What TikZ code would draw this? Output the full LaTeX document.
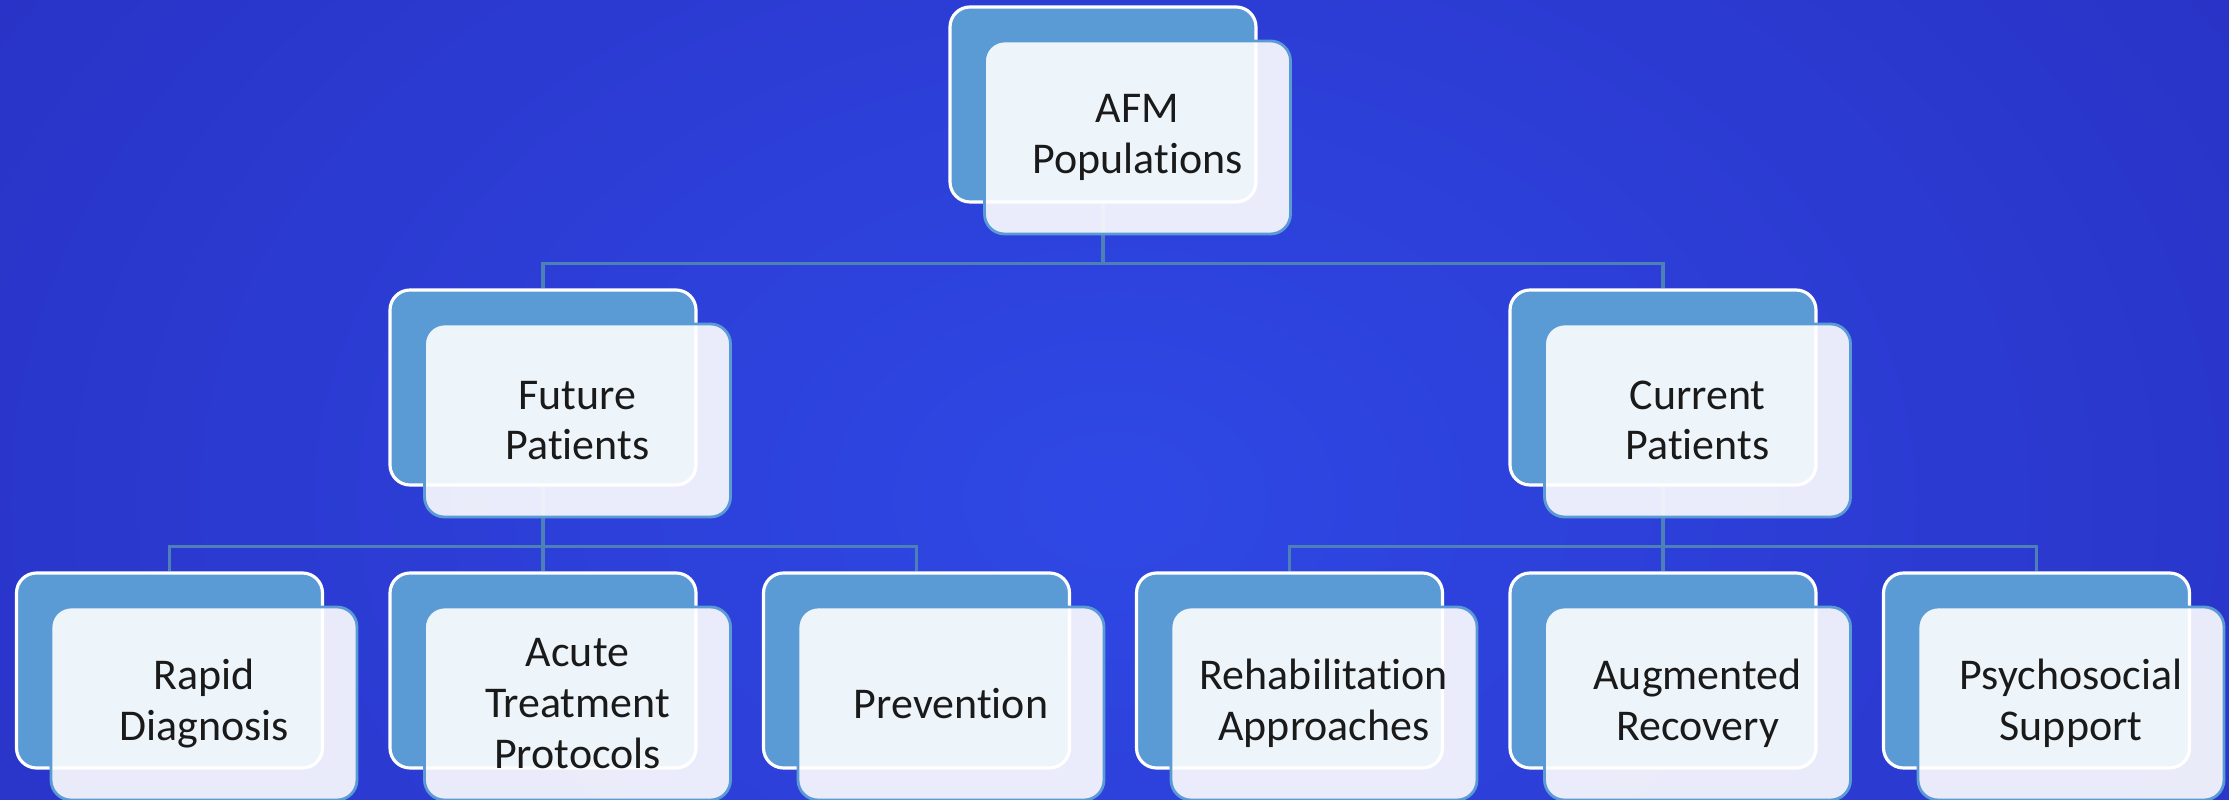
\documentclass[tikz,border=0pt]{standalone}
\usepackage{fontspec}
\setmainfont{Carlito}[Ligatures={NoCommon,NoRequired,NoContextual}, Contextuals=NoAlternate]
\usepackage{tikz}
\usetikzlibrary{calc}

\definecolor{bgin}{HTML}{2F48E5}
\definecolor{bgout}{HTML}{2830C2}
\definecolor{backc}{HTML}{5B9BD5}
\definecolor{linkc}{HTML}{4E80B8}
\definecolor{textc}{HTML}{1A1A1A}

\begin{document}
\begin{tikzpicture}[level distance=28.3mm,
  level 1/.style={sibling distance=112mm},
  level 2/.style={sibling distance=37.35mm},
  font=\fontsize{12.5}{14.4}\selectfont,
  backbox/.style={draw=white, line width=0.9pt, fill=backc,
    rounded corners=2mm, minimum width=30.6mm, minimum height=19.5mm,
    inner sep=0pt},
  frontbox/.style={draw=backc, line width=0.8pt, fill=white, fill opacity=0.9,
    text opacity=1, text=textc, rounded corners=2mm, align=center,
    minimum width=30.6mm, minimum height=19.3mm, inner sep=0pt},
  edge from parent/.style={draw=linkc, line width=0.9pt},
  edge from parent path={(\tikzparentnode.south) -- ++(0,-0.6) -| (\tikzchildnode.north)}]
  \useasboundingbox (0,0) rectangle (22.29,8);
  \shade[inner color=bgin, outer color=bgout] (-4,-8) rectangle (26.29,14);

  \node[backbox] (afm) at (11.03,6.955) {}
  child {node[backbox] (future) {}
    child {node[backbox] (rapid) {}}
    child {node[backbox] (acute) {}}
    child {node[backbox] (prevent) {}}}
  child {node[backbox] (current) {}
    child {node[backbox] (rehab) {}}
    child {node[backbox] (augment) {}}
    child {node[backbox] (psych) {}}};

  % text boxes sit on top, shifted down right
  \foreach \n/\t in {afm/{AFM\\Populations}, future/{Future\\Patients},
      current/{Current\\Patients}, rapid/{Rapid\\Diagnosis},
      acute/{Acute\\Treatment\\Protocols}, prevent/{Prevention},
      rehab/{Rehabilitation\\Approaches}, augment/{Augmented\\Recovery},
      psych/{Psychosocial\\Support}}
    \node[frontbox] (\n-f) at ([shift={(0.345,-0.33)}]\n.center) {\t};
\end{tikzpicture}
\end{document}
